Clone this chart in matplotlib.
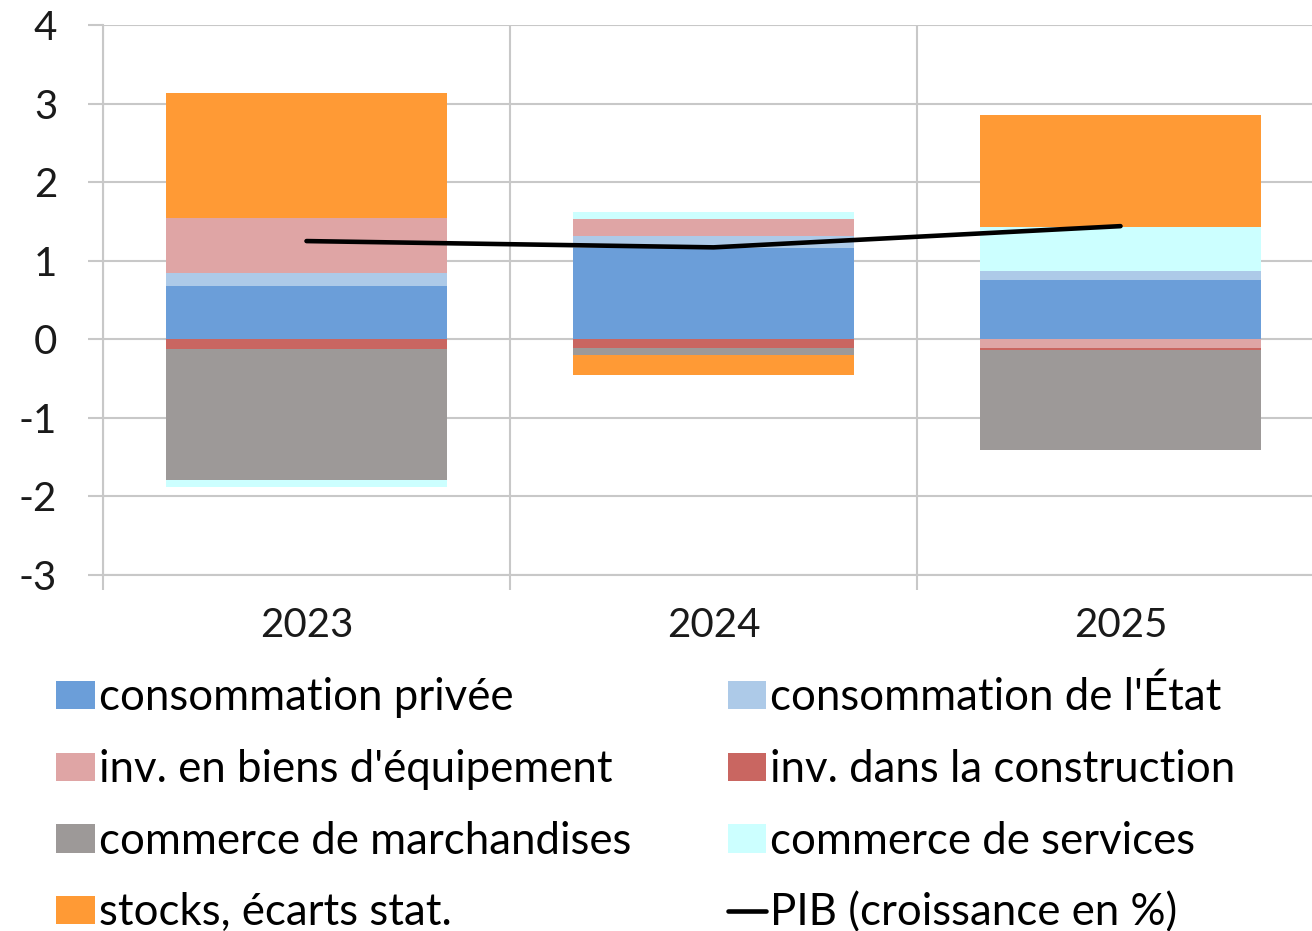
import matplotlib
matplotlib.use("Agg")
import matplotlib.pyplot as plt
from matplotlib.lines import Line2D
from matplotlib.patches import Patch
import numpy as np

years = ["2023", "2024", "2025"]
labels = ["consommation privée", "consommation de l'État", "inv. en biens d'équipement",
          "inv. dans la construction", "commerce de marchandises", "commerce de services",
          "stocks, écarts stat."]
conso_privee = [0.68, 1.16, 0.755]
conso_etat = [0.16, 0.15, 0.115]
inv_equipement = [0.70, 0.22, -0.105]
inv_construction = [-0.12, -0.11, -0.035]
commerce_march = [-1.67, -0.09, -1.27]
commerce_serv = [-0.09, 0.09, 0.555]
stocks = [1.59, -0.25, 1.425]
pib = [1.25, 1.17, 1.44]
pib_label = "PIB (croissance en %)"

series = [conso_privee, conso_etat, inv_equipement, inv_construction,
          commerce_march, commerce_serv, stocks]
colors = ["#6B9ED9", "#ADCAE8", "#DFA5A5", "#C96661", "#9D9998", "#CCFFFF", "#FF9A35"]

plt.rcParams['font.family'] = ['Lato', 'DejaVu Sans']
plt.rcParams['axes.unicode_minus'] = False
fs_tick = 29
fs_leg = 31.5
grid_c = '#C8C8C8'

fig = plt.figure(figsize=(13.12, 9.31), dpi=100)
W, H = 1312, 931
ax = fig.add_axes([103 / W, (H - 575) / H, (1324 - 103) / W, (575 - 25) / H])

x = np.arange(len(years))
pos_base = np.zeros(len(years))
neg_base = np.zeros(len(years))
handles = []
for vals, col, lab in zip(series, colors, labels):
    v = np.array(vals)
    base = np.where(v >= 0, pos_base, neg_base)
    ax.bar(x, v, bottom=base, width=0.69, color=col, edgecolor='none', zorder=2)
    pos_base = pos_base + np.where(v >= 0, v, 0)
    neg_base = neg_base + np.where(v < 0, v, 0)
    handles.append(Patch(facecolor=col, edgecolor='none', label=lab))

ax.plot(x, pib, color='black', lw=3.3, zorder=3, solid_capstyle='round')
line_h = Line2D([0], [0], color='black', lw=3.3, label=pib_label, solid_capstyle='round')

ax.set_xlim(-0.5, 2.5)
ax.set_ylim(-3, 4)
ax.set_yticks(range(-3, 5))
ax.set_xticks(x)
ax.set_xticklabels(years)
ax.set_xticks([-0.5, 0.5, 1.5, 2.5], minor=True)
ax.grid(True, axis='y', color=grid_c, lw=1.5, zorder=0)
ax.grid(True, axis='x', which='minor', color=grid_c, lw=1.5, zorder=0)
ax.tick_params(axis='x', which='major', length=0, labelsize=fs_tick, pad=23, labelcolor='#1a1a1a')
ax.tick_params(axis='x', which='minor', length=11, width=1.5, color=grid_c)
ax.tick_params(axis='y', length=11, width=1.5, color=grid_c, labelsize=fs_tick, pad=22,
               labelcolor='#1a1a1a')
for s in ['top', 'right']:
    ax.spines[s].set_visible(False)
for s in ['left', 'bottom']:
    ax.spines[s].set_color(grid_c)
    ax.spines[s].set_linewidth(1.5)

order = [handles[0], handles[2], handles[4], handles[6],
         handles[1], handles[3], handles[5], line_h]
fig.legend(handles=order, loc='upper left', bbox_to_anchor=(56 / W, 1 - 677 / H),
           ncol=2, frameon=False, fontsize=fs_leg, handlelength=0.89, handleheight=0.62,
           handletextpad=0.09, columnspacing=2.2, labelspacing=0.70, borderaxespad=0,
           borderpad=0)

fig.savefig("out.png", dpi=100)
